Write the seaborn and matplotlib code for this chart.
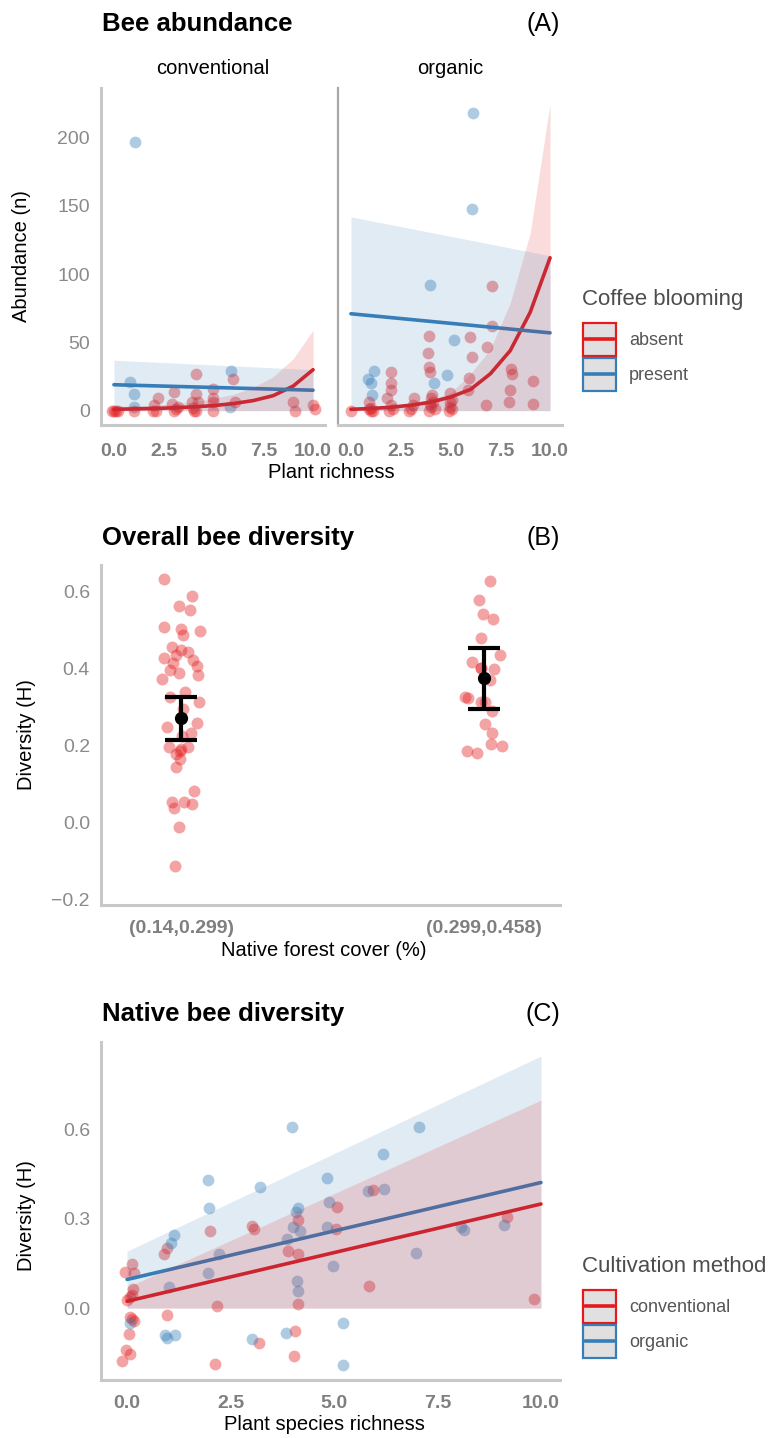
import numpy as np
import pandas as pd
import matplotlib
matplotlib.use("Agg")
import matplotlib.pyplot as plt
import seaborn as sns
from matplotlib.lines import Line2D
from matplotlib.patches import Rectangle
from matplotlib.legend_handler import HandlerBase

sns.set_theme(style="white")
plt.rcParams['font.family'] = ['Liberation Sans', 'DejaVu Sans']
plt.rcParams['text.color'] = 'black'

RED = "#E41A1C"
BLUE = "#377EB8"

# ---------------- Panel A data: bee abundance ----------------
ca_x = [-0.1, 0.0, 0.1, 0.2, 1.0, 1.95, 2.0, 2.1, 2.2, 2.9, 3.0, 3.0, 3.1, 3.2, 3.9, 3.95, 4.0, 4.1, 4.1, 4.1,
        4.2, 4.95, 4.95, 5.0, 5.0, 6.0, 6.1, 9.0, 9.1, 10.0, 10.1]
ca_y = [0, 0, 0, 0, 0, 0, 4, 0, 9, 5, 14, 0, 1, 3, 6, 2, 0, 27, 12, 0,
        6, 6, 0, 16, 9, 23, 6, 6, 0, 4, 1]
cp_x = [0.8, 1.0, 1.0, 1.05, 5.85, 5.9]
cp_y = [21, 12, 3, 197, 3, 29]
oa_x = [0.0, 0.9, 0.9, 1.0, 1.0, 1.1, 1.8, 1.9, 2.0, 2.0, 2.0, 2.0, 2.1, 2.9, 3.0, 3.1, 3.15,
        3.88, 3.9, 3.9, 3.9, 3.95, 3.97, 4.0, 4.0, 4.05, 4.1, 4.2, 4.9, 4.96, 5.0, 5.0, 5.1, 5.1,
        5.87, 5.95, 5.98, 6.07, 6.79, 6.84, 7.06, 7.1, 7.92, 8.0, 8.02, 8.08, 9.16, 9.16]
oa_y = [0, 6.6, 1, 0, 2, 0, 9, 0, 28, 20, 15, 4, 1, 0, 1, 4, 9,
        42, 55, 32, 0, 5, 28, 3, 9, 11.5, 6, 1, 0, 12.7, 3, 6, 1, 8,
        15, 24, 54, 39, 4, 47, 62, 91, 6, 15, 30.5, 27, 22, 5]
op_x = [0.88, 0.99, 1.04, 1.16, 3.97, 4.17, 4.83, 5.16, 6.08, 6.15]
op_y = [23, 20, 11.5, 29, 92, 20, 26, 52, 148, 218]

curve_x = [0, 1, 2, 3, 4, 5, 6, 7, 8, 9, 10]
conv_absent_fit = [1.0, 1.3, 1.6, 2.1, 2.8, 3.7, 5.2, 7.4, 11, 18, 30]
conv_absent_hi = [3, 3.5, 4, 5, 6.5, 9, 12, 17, 25, 38, 59]
conv_absent_lo = [0, 0, 0, 0, 0, 0, 0, 0, 0, 0, 0]
org_absent_fit = [1.0, 1.6, 2.5, 4.0, 6.2, 10, 15.5, 27, 44, 72, 112]
org_absent_hi = [2, 2.5, 3.5, 5.5, 8, 13, 27, 45, 79, 130, 225]
org_absent_lo = [0, 0, 0, 0, 0, 0, 0, 0, 0, 0, 0]
line_x = [0, 10]
conv_present_fit = [19, 15]
conv_present_hi = [37, 30]
conv_present_lo = [0, 0]
org_present_fit = [71, 57]
org_present_hi = [142, 113.5]
org_present_lo = [0, 0]

# ---------------- Panel B data: overall diversity ----------------
forest_bins = ["(0.14,0.299)", "(0.299,0.458)"]
div_low = [0.634, 0.590, 0.564, 0.553, 0.499, 0.488, 0.505, 0.510, 0.456, 0.449, 0.443, 0.423, 0.436,
           0.428, 0.415, 0.408, 0.397, 0.389, 0.384, 0.373, 0.339, 0.315, 0.328, 0.296, 0.259, 0.250,
           0.227, 0.233, 0.197, 0.187, 0.198, 0.192, 0.178, 0.166, 0.146, 0.084, 0.049, 0.038, 0.054,
           0.055, -0.011, -0.112]
div_high = [0.629, 0.578, 0.543, 0.530, 0.481, 0.435, 0.418, 0.400, 0.403, 0.403, 0.372, 0.313, 0.315,
            0.328, 0.325, 0.292, 0.257, 0.234, 0.200, 0.205, 0.188, 0.183]
mean_div = [0.272, 0.376]
mean_lo = [0.216, 0.297]
mean_hi = [0.328, 0.455]

# ---------------- Panel C data: native bee diversity ----------------
conv_rich = [0.12, 0.17, -0.04, 0.15, 0.11, 0.06, -0.01, 0.06, 0.17, 0.11, 0.04, -0.02, 0.08, -0.12,
             0.89, 0.97, 0.97, 2.0, 2.17, 2.12, 3.03, 3.06, 3.19, 3.9, 4.14, 4.12, 4.13, 4.06, 4.03,
             5.08, 5.05, 5.93, 5.84, 9.19, 9.83]
conv_div = [0.147, 0.116, 0.12, 0.063, 0.044, 0.038, 0.027, -0.031, -0.044, -0.038, -0.087, -0.141, -0.155,
            -0.177, 0.182, 0.203, -0.022, 0.257, 0.006, -0.187, 0.276, 0.266, -0.116, 0.192, 0.183, 0.295,
            0.014, -0.078, -0.162, 0.339, 0.264, 0.397, 0.074, 0.304, 0.031]
org_rich = [3.99, 7.05, 6.19, 1.95, 3.2, 4.83, 1.99, 4.87, 4.13, 4.08, 5.81, 6.21, 1.14, 1.05, 4.02, 4.18,
            4.83, 3.86, 2.22, 1.96, 4.97, 8.08, 8.14, 9.1, 6.99, 1.01, 4.1, 4.13, 0.07, 0.92, 0.96, 1.15,
            3.03, 3.85, 5.22, 5.22]
org_div = [0.606, 0.607, 0.516, 0.428, 0.407, 0.435, 0.335, 0.354, 0.336, 0.321, 0.394, 0.399, 0.244, 0.218,
           0.273, 0.258, 0.273, 0.231, 0.180, 0.116, 0.142, 0.273, 0.261, 0.278, 0.185, 0.072, 0.092, 0.058,
           -0.051, -0.089, -0.1, -0.089, -0.105, -0.085, -0.051, -0.19]
c_line_x = [0, 10]
c_conv_fit = [0.023, 0.349]
c_conv_hi = [0.07, 0.697]
c_conv_lo = [0.0, 0.0]
c_org_fit = [0.096, 0.421]
c_org_hi = [0.191, 0.845]
c_org_lo = [0.0, 0.0]

# ---------------- Figure ----------------
W, H = 774, 1438
fig = plt.figure(figsize=(W / 100, H / 100), dpi=100)
fig.patch.set_facecolor("white")


def rect(x0, y0, x1, y1):
    return [x0 / W, 1 - y1 / H, (x1 - x0) / W, (y1 - y0) / H]


SPINE = "#c8c8c8"
TICKC = "#8a8a8a"
XTICKC = "#7f7f7f"


def style(ax, xpad=10):
    ax.set_facecolor("white")
    for s in ["top", "right"]:
        ax.spines[s].set_visible(False)
    for s in ["left", "bottom"]:
        ax.spines[s].set_color(SPINE)
        ax.spines[s].set_linewidth(2.2)
    ax.tick_params(length=0, labelsize=14, colors=TICKC)
    ax.tick_params(axis="y", pad=8)
    ax.tick_params(axis="x", pad=xpad)
    ax.grid(False)
    ax.set_xlabel("")
    ax.set_ylabel("")


PT_S = 72
PT_A = 0.4


def draw_fit(ax, x, fit, color):
    sns.lineplot(x=x, y=fit, color=color, lw=2.6, ax=ax, zorder=3)


def draw_band(ax, x, lo, hi, color):
    ax.fill_between(x, lo, hi, color=color, alpha=0.15, lw=0, zorder=4)


# Panel A
axL = fig.add_axes(rect(101, 88, 325, 425))
axR = fig.add_axes(rect(338, 88, 562, 425))
for ax, ax_x_a, ax_y_a, ax_x_p, ax_y_p, fa, ha, la, fp, hp, lp, name in [
    (axL, ca_x, ca_y, cp_x, cp_y, conv_absent_fit, conv_absent_hi, conv_absent_lo,
     conv_present_fit, conv_present_hi, conv_present_lo, "conventional"),
    (axR, oa_x, oa_y, op_x, op_y, org_absent_fit, org_absent_hi, org_absent_lo,
     org_present_fit, org_present_hi, org_present_lo, "organic")]:
    sns.scatterplot(x=ax_x_p, y=ax_y_p, color=BLUE, alpha=PT_A, s=PT_S, linewidth=0, ax=ax, legend=False)
    sns.scatterplot(x=ax_x_a, y=ax_y_a, color=RED, alpha=PT_A, s=PT_S, linewidth=0, ax=ax, legend=False)
    draw_fit(ax, curve_x, fa, RED)
    draw_band(ax, curve_x, la, ha, RED)
    draw_fit(ax, line_x, fp, BLUE)
    draw_band(ax, line_x, lp, hp, BLUE)
    style(ax, xpad=13)
    ax.set_xlim(-0.65, 10.6)
    ax.set_ylim(-10.5, 236.4)
    ax.set_xticks([0, 2.5, 5, 7.5, 10], ["0.0", "2.5", "5.0", "7.5", "10.0"], fontweight="bold", color=XTICKC)
    ax.set_yticks([0, 50, 100, 150, 200])
    ax.text(0.5, 1 + 19 / 337, name, transform=ax.transAxes, ha="center", va="center",
            fontsize=14.5, color="black")
axR.set_yticklabels([])
axR.spines["left"].set_color("#a8a8a8")
axR.spines["left"].set_linewidth(1.6)

fig.text(102 / W, 1 - 24 / H, "Bee abundance", fontsize=18.5, fontweight="bold", ha="left", va="center")
fig.text(560 / W, 1 - 24 / H, "(A)", fontsize=18, ha="right", va="center")
fig.text(331 / W, 1 - 472 / H, "Plant richness", fontsize=14.5, ha="center", va="center")
fig.text(22 / W, 1 - 256 / H, "Abundance (n)", fontsize=14.5, ha="center", va="center", rotation=90)

# Panel B
axB = fig.add_axes(rect(101, 565, 560, 905))
np.random.seed(7)
dfB = pd.DataFrame({
    "bin": [forest_bins[0]] * len(div_low) + [forest_bins[1]] * len(div_high),
    "div": div_low + div_high,
})
sns.stripplot(data=dfB, x="bin", y="div", order=forest_bins, color=RED, alpha=PT_A, size=8.6,
              jitter=0.065, linewidth=0, ax=axB)
mean_arr = np.array(mean_div)
axB.errorbar([0, 1], mean_arr, yerr=[mean_arr - np.array(mean_lo), np.array(mean_hi) - mean_arr],
             fmt="o", color="black", ms=8.5, elinewidth=3, capsize=11.5, capthick=3, zorder=5)
style(axB, xpad=11)
axB.set_xlim(-0.264, 1.25)
axB.set_ylim(-0.213, 0.67)
axB.set_yticks([-0.2, 0.0, 0.2, 0.4, 0.6])
axB.set_xticks([0, 1], forest_bins, fontweight="bold", color=XTICKC)
fig.text(102 / W, 1 - 538 / H, "Overall bee diversity", fontsize=18.5, fontweight="bold", ha="left", va="center")
fig.text(560 / W, 1 - 538 / H, "(B)", fontsize=18, ha="right", va="center")
fig.text(324 / W, 1 - 950 / H, "Native forest cover (%)", fontsize=14.5, ha="center", va="center")
fig.text(27 / W, 1 - 735 / H, "Diversity (H)", fontsize=14.5, ha="center", va="center", rotation=90)

# Panel C
axC = fig.add_axes(rect(101, 1042, 560, 1380))
sns.scatterplot(x=conv_rich, y=conv_div, color=RED, alpha=PT_A, s=PT_S, linewidth=0, ax=axC, legend=False)
sns.scatterplot(x=org_rich, y=org_div, color=BLUE, alpha=PT_A, s=PT_S, linewidth=0, ax=axC, legend=False)
draw_fit(axC, c_line_x, c_conv_fit, RED)
draw_fit(axC, c_line_x, c_org_fit, BLUE)
draw_band(axC, c_line_x, c_org_lo, c_org_hi, BLUE)
draw_band(axC, c_line_x, c_conv_lo, c_conv_hi, RED)
style(axC, xpad=11)
axC.set_xlim(-0.63, 10.46)
axC.set_ylim(-0.241, 0.892)
axC.set_yticks([0.0, 0.3, 0.6], ["0.0", "0.3", "0.6"])
axC.set_xticks([0, 2.5, 5, 7.5, 10], ["0.0", "2.5", "5.0", "7.5", "10.0"], fontweight="bold", color=XTICKC)
fig.text(102 / W, 1 - 1014 / H, "Native bee diversity", fontsize=18.5, fontweight="bold", ha="left", va="center")
fig.text(560 / W, 1 - 1014 / H, "(C)", fontsize=18, ha="right", va="center")
fig.text(324 / W, 1 - 1425 / H, "Plant species richness", fontsize=14.5, ha="center", va="center")
fig.text(27 / W, 1 - 1216 / H, "Diversity (H)", fontsize=14.5, ha="center", va="center", rotation=90)


# Legends
class KeyHandler(HandlerBase):
    def legend_artist(self, legend, orig_handle, fontsize, handlebox):
        x0, y0 = handlebox.xdescent, handlebox.ydescent
        w, h = handlebox.width, handlebox.height
        c = orig_handle.get_color()
        box = Rectangle((-x0 + 0.8, -y0 + 0.8), w - 1.6, h - 1.6, facecolor="#e0e0e0", edgecolor=c,
                        linewidth=1.6, transform=handlebox.get_transform())
        ln = Line2D([-x0 + 2.0, -x0 + w - 2.0], [-y0 + h / 2, -y0 + h / 2], color=c, lw=2.6,
                    transform=handlebox.get_transform())
        handlebox.add_artist(box)
        handlebox.add_artist(ln)
        return box


def make_legend(labels, title, title_px, top_px):
    fig.text(582 / W, 1 - title_px / H, title, fontsize=16, color="#4d4d4d", ha="left", va="center")
    handles = [Line2D([], [], color=RED), Line2D([], [], color=BLUE)]
    leg = fig.legend(handles=handles, labels=labels,
                     handler_map={Line2D: KeyHandler()},
                     loc="upper left", bbox_to_anchor=(582 / W, 1 - top_px / H), frameon=False,
                     fontsize=13, handlelength=1.94, handleheight=2.6,
                     labelspacing=0.0, handletextpad=0.66, borderpad=0, borderaxespad=0)
    for t in leg.get_texts():
        t.set_color("#555555")
    return leg


make_legend(["absent", "present"], "Coffee blooming", 300, 322)
make_legend(["conventional", "organic"], "Cultivation method", 1267, 1289)

fig.savefig("out.png", dpi=100, facecolor="white")
